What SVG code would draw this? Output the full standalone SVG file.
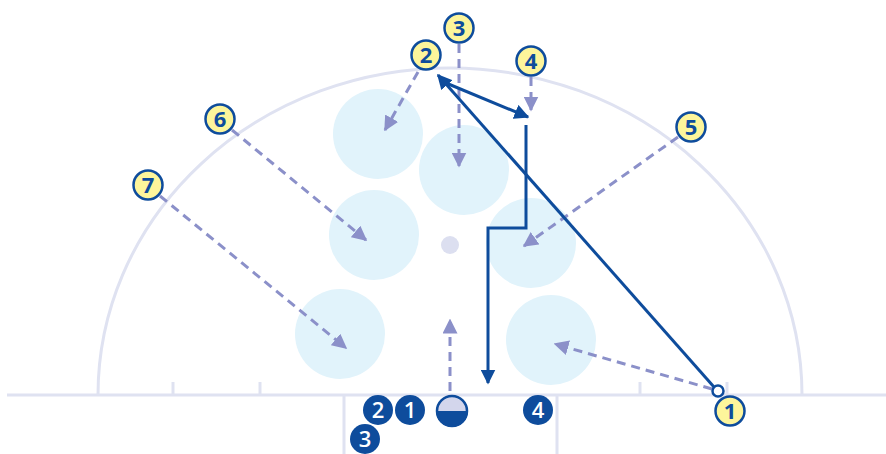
<svg xmlns="http://www.w3.org/2000/svg" width="886" height="454" viewBox="0 0 886 454">
<defs>
<style>
.court{fill:none;stroke:#dfe2f1;stroke-width:3}
.zone{fill:#e1f3fb}
.dash{fill:none;stroke:#8b90c9;stroke-width:3;stroke-dasharray:9,6}
.solid{fill:none;stroke:#0e4c9c;stroke-width:3}
.badge circle{fill:#fdf59b;stroke:#0e4c9c;stroke-width:2.5}
.badge text{fill:#0e4c9c;font-family:"Open Sans","DejaVu Sans",sans-serif;font-weight:700;font-size:22px;text-anchor:middle}
.player circle{fill:#0e4c9c}
.player text{fill:#ffffff;font-family:"Open Sans","DejaVu Sans",sans-serif;font-weight:600;font-size:22px;text-anchor:middle}
</style>
<marker id="ad" viewBox="0 0 10 10" refX="9" refY="5" markerWidth="5" markerHeight="5" orient="auto" markerUnits="strokeWidth"><path d="M0,0L10,5L0,10z" fill="#8b90c9"/></marker>
<marker id="as" viewBox="0 0 10 10" refX="9" refY="5" markerWidth="5" markerHeight="5" orient="auto" markerUnits="strokeWidth"><path d="M0,0L10,5L0,10z" fill="#0e4c9c"/></marker>
</defs>
<g id="court">
<line class="court" x1="7" y1="395" x2="886" y2="395"/>
<path class="court" d="M98,395 A352,327 0 0 1 802,395"/>
<line class="court" x1="173" y1="395" x2="173" y2="382"/>
<line class="court" x1="260" y1="395" x2="260" y2="382"/>
<line class="court" x1="640" y1="395" x2="640" y2="382"/>
<line class="court" x1="727" y1="395" x2="727" y2="382"/>
<path class="court" d="M344,395 V454 M557,395 V454"/>
</g>
<g id="zones">
<circle class="zone" cx="378" cy="134" r="45"/>
<circle class="zone" cx="464" cy="170" r="45"/>
<circle class="zone" cx="374" cy="235" r="45"/>
<circle class="zone" cx="531" cy="243" r="45"/>
<circle class="zone" cx="340" cy="334" r="45"/>
<circle class="zone" cx="551" cy="340" r="45"/>
<circle cx="450" cy="245" r="9" fill="#dcdff0"/>
</g>
<g id="connectors">
<line class="dash" x1="418" y1="72" x2="385" y2="130" marker-end="url(#ad)"/>
<line class="dash" x1="459" y1="44" x2="459" y2="166" marker-end="url(#ad)"/>
<line class="dash" x1="531" y1="77" x2="531" y2="110" marker-end="url(#ad)"/>
<line class="dash" x1="678" y1="137" x2="524" y2="246" marker-end="url(#ad)"/>
<line class="dash" x1="232" y1="130" x2="366" y2="240" marker-end="url(#ad)"/>
<line class="dash" x1="160" y1="196" x2="346" y2="348" marker-end="url(#ad)"/>
<line class="dash" x1="712" y1="389" x2="555" y2="344" marker-end="url(#ad)"/>
<line class="dash" x1="450" y1="391" x2="450" y2="320" marker-end="url(#ad)"/>
<line class="solid" x1="714" y1="387" x2="438" y2="75" marker-end="url(#as)"/>
<line class="solid" x1="446" y1="83" x2="528" y2="117" marker-end="url(#as)"/>
<path class="solid" d="M526,125 V228 H488 V383" marker-end="url(#as)"/>
<circle cx="718" cy="391" r="5.5" fill="#ffffff" stroke="#0e4c9c" stroke-width="2.5"/>
</g>
<g id="b1" class="badge"><circle cx="730" cy="411" r="14.5"/><text x="730" y="419">1</text></g>
<g id="b2" class="badge"><circle cx="426" cy="55" r="14.5"/><text x="426" y="63">2</text></g>
<g id="b3" class="badge"><circle cx="459" cy="28" r="14.5"/><text x="459" y="36">3</text></g>
<g id="b4" class="badge"><circle cx="531" cy="61" r="14.5"/><text x="531" y="69">4</text></g>
<g id="b5" class="badge"><circle cx="691" cy="127" r="14.5"/><text x="691" y="135">5</text></g>
<g id="b6" class="badge"><circle cx="220" cy="119" r="14.5"/><text x="220" y="127">6</text></g>
<g id="b7" class="badge"><circle cx="148" cy="185" r="14.5"/><text x="148" y="193">7</text></g>
<g id="p2" class="player"><circle cx="378" cy="410" r="15"/><text x="378" y="418">2</text></g>
<g id="p1" class="player"><circle cx="410" cy="410" r="15"/><text x="410" y="418">1</text></g>
<g id="p3" class="player"><circle cx="365" cy="439" r="15"/><text x="365" y="447">3</text></g>
<g id="p4" class="player"><circle cx="538" cy="410" r="15"/><text x="538" y="418">4</text></g>
<g id="ball">
<path d="M436,411 A16,16 0 0 1 468,411 Z" fill="#d3d6ec"/>
<path d="M436,411 A16,16 0 0 0 468,411 Z" fill="#0e4c9c"/>
<circle cx="452" cy="411" r="15" fill="none" stroke="#0e4c9c" stroke-width="2.5"/>
</g>
</svg>
